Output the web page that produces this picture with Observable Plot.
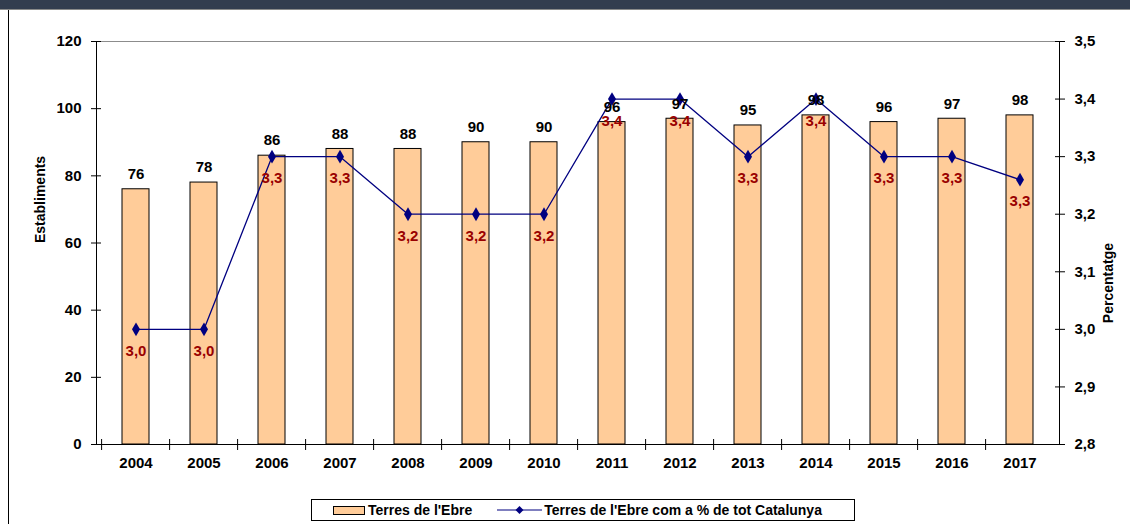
<!DOCTYPE html>
<html>
<head>
<meta charset="utf-8">
<script src="https://cdn.jsdelivr.net/npm/d3@7"></script>
<script src="https://cdn.jsdelivr.net/npm/@observablehq/plot@0.6"></script>
<style>
  html, body { margin: 0; padding: 0; background: #fff; }
  #wrap { position: relative; width: 1130px; height: 524px; overflow: hidden; font-family: "Liberation Sans", Arial, sans-serif; }
  #header { position: absolute; left: 0; top: 0; width: 1130px; height: 9px; background: #333d4f; border-bottom: 1px solid #8a8a8a; z-index: 3; }
  #leftborder { position: absolute; left: 8px; top: 10px; width: 1px; height: 514px; background: #000; z-index: 3; }
  #chart { position: absolute; left: 0; top: 0; z-index: 1; }
  #legend { position: absolute; left: 311px; top: 499px; width: 544px; height: 22px; border: 1px solid #000; background: #fff; z-index: 2;
            display: flex; align-items: center; font-weight: bold; font-size: 14px; box-sizing: border-box; white-space: nowrap; }
  #legend span { white-space: nowrap; flex: none; }
  .sw { display: inline-block; width: 30px; height: 7px; background: #ffcc99; border: 1px solid #000; margin-left: 21px; margin-right: 3px; }
  .lm { margin-left: 25px; margin-right: 2px; flex: none; }
</style>
</head>
<body>
<div id="wrap">
  <div id="header"></div>
  <div id="chart"></div>
  <div id="leftborder"></div>
  <div id="legend">
    <span class="sw"></span><span>Terres de l'Ebre</span>
    <svg class="lm" width="45" height="10"><line x1="0" y1="5" x2="45" y2="5" stroke="#000080" stroke-width="1.2"/><path d="M22.5,1 L26.5,5 L22.5,9 L18.5,5 Z" fill="#000080"/></svg>
    <span>Terres de l'Ebre com a % de tot Catalunya</span>
  </div>
</div>
<script>
const years = ["2004","2005","2006","2007","2008","2009","2010","2011","2012","2013","2014","2015","2016","2017"];
const establiments = [76, 78, 86, 88, 88, 90, 90, 96, 97, 95, 98, 96, 97, 98];
const percentatge = [3.0, 3.0, 3.3, 3.3, 3.2, 3.2, 3.2, 3.4, 3.4, 3.3, 3.4, 3.3, 3.3, 3.26];
const leftTicks = [0, 20, 40, 60, 80, 100, 120];
const rightTicks = [2.8, 2.9, 3.0, 3.1, 3.2, 3.3, 3.4, 3.5];

const leftMax = 120, rMin = 2.8, rMax = 3.5;
const toY = p => (p - rMin) / (rMax - rMin) * leftMax;
const fromY = y => y / leftMax * (rMax - rMin) + rMin;
const fmt = v => v.toFixed(1).replace(".", ",");

const data = years.map((y, i) => ({year: y, est: establiments[i], pct: percentatge[i]}));

const W = 1130, H = 480, mL = 96, mR = 71, mT = 41, mB = 36;
const step = (W - mL - mR) / years.length;
const FS = 15;

const chart = Plot.plot({
  width: W, height: H,
  marginTop: mT, marginBottom: mB, marginLeft: mL, marginRight: mR,
  style: {fontFamily: "'Liberation Sans', Arial, sans-serif", fontSize: "15px", fontWeight: "bold", color: "#000", background: "transparent", overflow: "visible"},
  x: {domain: years, paddingInner: 0.6, paddingOuter: 0.3, label: null},
  y: {domain: [0, leftMax], label: null},
  marks: [
    Plot.barY(data, {x: "year", y: "est", fill: "#ffcc99", stroke: "#000", strokeWidth: 1}),
    Plot.frame({stroke: "#000", strokeWidth: 1}),
    Plot.ruleY([leftMax], {stroke: "#8c8c8c", strokeWidth: 1.2}),
    Plot.axisY({ticks: leftTicks, tickSize: 0, tickPadding: 15, fontWeight: "bold", fontSize: FS}),
    Plot.axisY({ticks: leftTicks, tickSize: 10, text: null, dx: 5, stroke: "#000"}),
    Plot.axisY({anchor: "right", ticks: rightTicks.map(toY), tickFormat: d => fmt(fromY(d)), tickSize: 0, tickPadding: 15, fontWeight: "bold", fontSize: FS}),
    Plot.axisY({anchor: "right", ticks: rightTicks.map(toY), tickSize: 10, text: null, dx: -5, stroke: "#000"}),
    Plot.axisX({tickSize: 0, tickPadding: 13, fontWeight: "bold", fontSize: FS}),
    Plot.axisX({tickSize: 11, text: null, dx: -step / 2, dy: -5, stroke: "#000"}),
    Plot.line(data, {x: "year", y: d => toY(d.pct), stroke: "#000080", strokeWidth: 1.3}),
    Plot.dot(data, {x: "year", y: d => toY(d.pct), symbol: "diamond", r: 4.2, fill: "#000080", stroke: "none"}),
    Plot.text(data, {x: "year", y: "est", text: d => String(d.est), dy: -15, fontWeight: "bold", fontSize: FS, fill: "#000"}),
    Plot.text(data, {x: "year", y: d => toY(d.pct), text: d => fmt(d.pct), dy: 22, fontWeight: "bold", fontSize: FS, fill: "#990000"}),
    Plot.text(["Establiments"], {frameAnchor: "left", dx: -56, rotate: -90, fontWeight: "bold", fontSize: 14, fill: "#000"}),
    Plot.text(["Percentatge"], {frameAnchor: "right", dx: 49, rotate: -90, fontWeight: "bold", fontSize: 14, fill: "#000"})
  ]
});
document.getElementById("chart").appendChild(chart);
</script>
</body>
</html>
